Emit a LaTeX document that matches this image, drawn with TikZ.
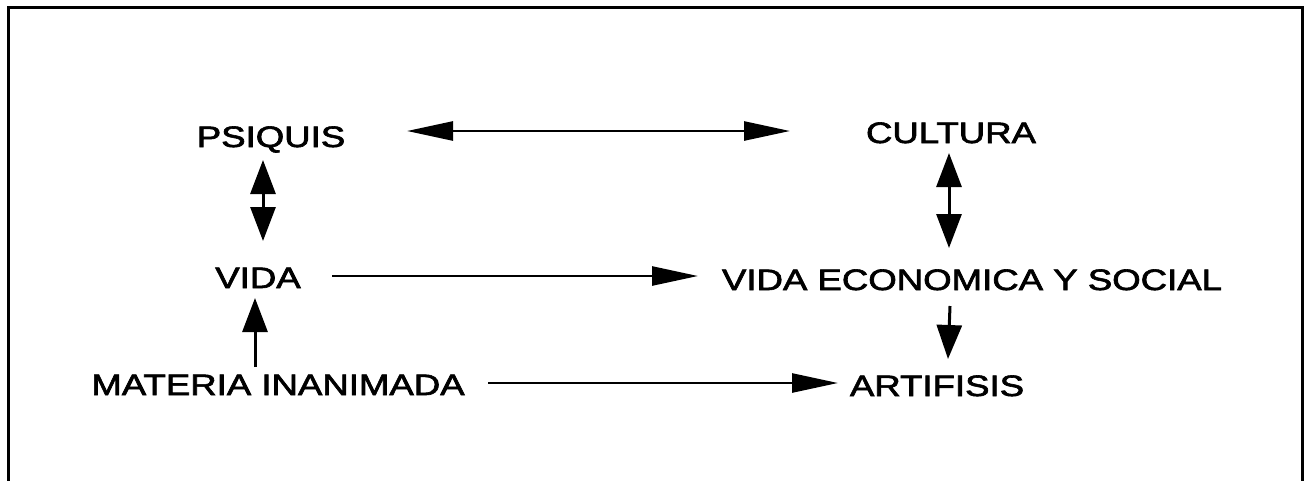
\documentclass[tikz,border=0pt]{standalone}
\usepackage{fontspec}
\usepackage{graphicx}
\setmainfont{Liberation Sans}
% a slightly heavier cut for the concept labels
\newfontfamily\lblfont{Liberation Sans}[FakeBold=2]
\usetikzlibrary{arrows.meta}
% labels are set in a horizontally widened sans face
\newcommand\wide[1]{\scalebox{1.24}[1]{#1}}
\tikzset{
  lbl/.style={font=\lblfont\fontsize{29.5}{31}\selectfont, inner sep=0pt, anchor=base},
  hhead/.tip={Triangle[length=46pt,width=19pt]},
  vhead/.tip={Triangle[length=34pt,width=25pt]},
  hline/.style={line width=2.6pt},
  vline/.style={line width=3pt},
  frame/.style={line width=3pt},
}
\begin{document}
\begin{tikzpicture}[x=1pt,y=-1pt]
  \useasboundingbox (0,0) rectangle (1308,480);
  \fill[white] (0,0) rectangle (1308,480);
  \begin{scope}
    \clip (0,0) rectangle (1308,480);
    \draw[frame] (8,7) rectangle (1302,500);
  \end{scope}

  % concepts
  \node[lbl] (psiquis)  at (271,147) {\wide{PSIQUIS}};
  \node[lbl] (cultura)  at (951,143) {\wide{CULTURA}};
  \node[lbl] (vida)     at (258,288) {\wide{VIDA}};
  \node[lbl] (ves)      at (972,290) {\wide{VIDA ECONOMICA Y SOCIAL}};
  \node[lbl] (materia)  at (278,395) {\wide{MATERIA INANIMADA}};
  \node[lbl] (artifisis) at (937,396) {\wide{ARTIFISIS}};

  % connector end points
  \coordinate (pcL) at (407,131);
  \coordinate (pcR) at (790,131);
  \coordinate (pvT) at (263,160);
  \coordinate (pvB) at (263,241);
  \coordinate (vvL) at (332,276);
  \coordinate (vvR) at (698,276);
  \coordinate (cvT) at (949,153);
  \coordinate (cvB) at (949,248);
  \coordinate (vaT) at (950,306);
  \coordinate (vaB) at (948,359);
  \coordinate (mvB) at (255,367);
  \coordinate (mvT) at (255,298);
  \coordinate (maL) at (488,383);
  \coordinate (maR) at (838,383);

  % horizontal links
  \draw[hline, hhead-hhead] (pcL) -- (pcR);
  \draw[hline, -hhead] (vvL) -- (vvR);
  \draw[hline, -hhead] (maL) -- (maR);

  % vertical links
  \draw[vline, vhead-vhead] (pvT) -- (pvB);
  \draw[vline, vhead-vhead] (cvT) -- (cvB);
  \draw[vline, -vhead] (vaT) -- (vaB);
  \draw[vline, -vhead] (mvB) -- (mvT);
\end{tikzpicture}
\end{document}
